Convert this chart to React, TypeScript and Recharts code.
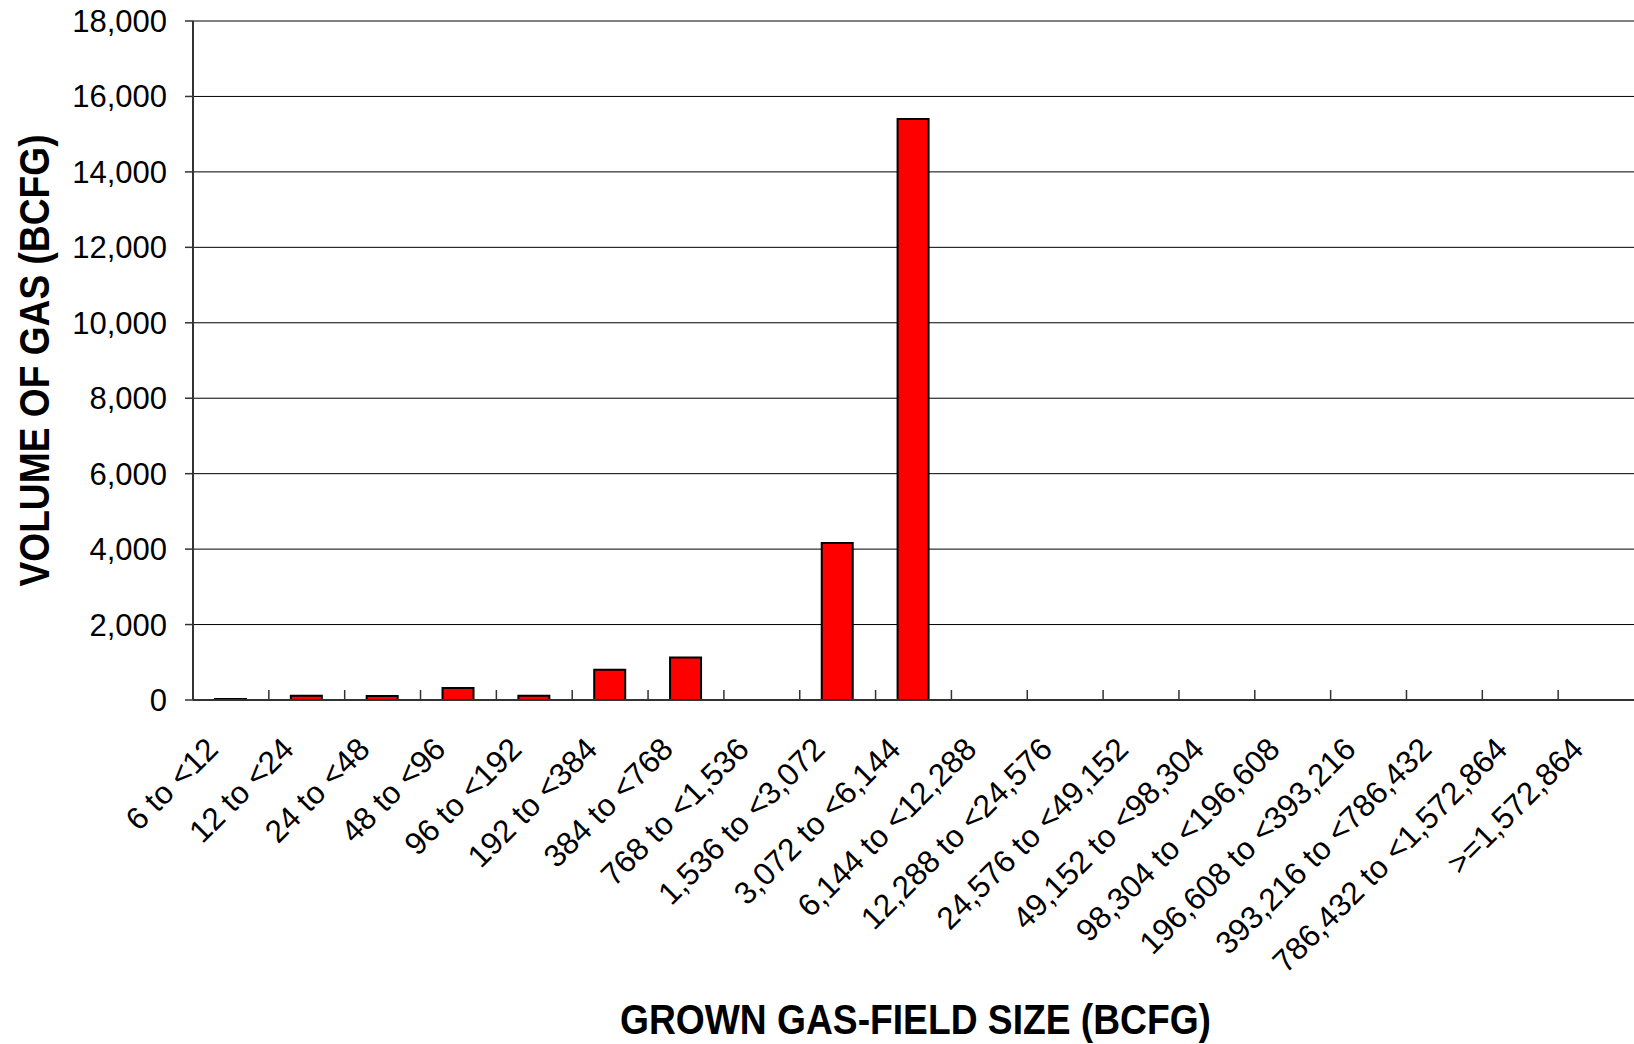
import { BarChart, Bar, XAxis, YAxis, CartesianGrid, Label } from "recharts";

// grown gas-field size classes (BCFG)
const sizeClasses = [
  "6 to <12",
  "12 to <24",
  "24 to <48",
  "48 to <96",
  "96 to <192",
  "192 to <384",
  "384 to <768",
  "768 to <1,536",
  "1,536 to <3,072",
  "3,072 to <6,144",
  "6,144 to <12,288",
  "12,288 to <24,576",
  "24,576 to <49,152",
  "49,152 to <98,304",
  "98,304 to <196,608",
  "196,608 to <393,216",
  "393,216 to <786,432",
  "786,432 to <1,572,864",
  ">=1,572,864",
];

// volume of gas per class (BCFG)
const gasVolume = [25, 115, 105, 315, 115, 800, 1125, 0, 4160, 15400, 0, 0, 0, 0, 0, 0, 0, 0, 0];

const yTicks = [0, 2000, 4000, 6000, 8000, 10000, 12000, 14000, 16000, 18000];

const data = sizeClasses.map((size, i) => ({ size, volume: gasVolume[i] }));

const FONT = "'Liberation Sans', Arial, Helvetica, sans-serif";

// slanted class label, plus the small inward tick on the class's left boundary
function SlantTick({ x, y, payload }: any) {
  const edge = x - (payload.offset || 0);
  return (
    <g>
      {payload.index > 0 && (
        <line x1={edge} x2={edge} y1={y} y2={y - 10} stroke="#333" strokeWidth={1.5} />
      )}
      <text
        x={0}
        y={0}
        transform={`translate(${x - 11},${y + 51}) rotate(-45)`}
        textAnchor="end"
        fontSize={31.5}
        fontFamily={FONT}
        fill="#000"
      >
        {payload.value}
      </text>
    </g>
  );
}

export default function App() {
  return (
    <div style={{ position: "absolute", left: 0, top: 0, background: "#fff" }}>
      <BarChart
        width={1634}
        height={1044}
        data={data}
        margin={{ top: 21, right: 0, bottom: 0, left: 0 }}
      >
        <CartesianGrid vertical={false} stroke="#000" strokeWidth={1} />
        <XAxis
          dataKey="size"
          interval={0}
          height={344}
          tick={<SlantTick />}
          tickLine={false}
          tickSize={0}
          tickMargin={0}
          axisLine={{ stroke: "#333", strokeWidth: 2 }}
        >
          <Label
            content={({ viewBox }: any) => (
              <text
                x={viewBox.x + viewBox.width / 2 + 2}
                y={viewBox.y + 334}
                textAnchor="middle"
                fontSize={43}
                fontWeight="bold"
                fontFamily={FONT}
                textLength={591}
                lengthAdjust="spacingAndGlyphs"
                fill="#000"
              >
                GROWN GAS-FIELD SIZE (BCFG)
              </text>
            )}
          />
        </XAxis>
        <YAxis
          domain={[0, 18000]}
          ticks={yTicks}
          width={193}
          tickSize={8}
          tickMargin={18}
          tickFormatter={(v: number) => v.toLocaleString("en-US")}
          tick={{ fontSize: 31, fontFamily: FONT, fill: "#000" }}
          tickLine={{ stroke: "#333", strokeWidth: 1.5 }}
          axisLine={{ stroke: "#333", strokeWidth: 2 }}
        >
          <Label
            content={({ viewBox }: any) => {
              const cx = 34;
              const cy = viewBox.y + viewBox.height / 2;
              return (
                <text
                  x={cx}
                  y={cy}
                  transform={`rotate(-90 ${cx} ${cy})`}
                  textAnchor="middle"
                  dominantBaseline="central"
                  fontSize={43}
                  fontWeight="bold"
                  fontFamily={FONT}
                  textLength={452}
                  lengthAdjust="spacingAndGlyphs"
                  fill="#000"
                >
                  VOLUME OF GAS (BCFG)
                </text>
              );
            }}
          />
        </YAxis>
        <Bar
          dataKey="volume"
          fill="#FF0000"
          stroke="#000"
          strokeWidth={2}
          barSize={31}
          isAnimationActive={false}
        />
      </BarChart>
    </div>
  );
}
